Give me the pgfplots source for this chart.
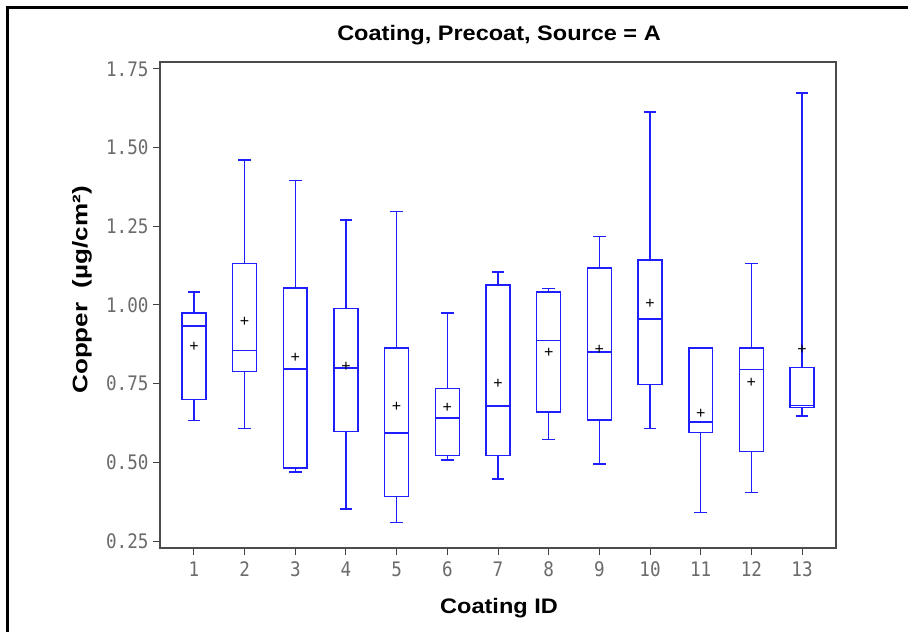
\documentclass[border=0pt]{standalone}
\usepackage{pgfplots}
\pgfplotsset{compat=1.18}
\usepgfplotslibrary{statistics}
\usepackage{fontspec}
\setmainfont{Liberation Sans}
\newfontfamily\titlefont[FakeStretch=1.12]{Liberation Sans}
\newfontfamily\ylabfont[FakeStretch=1.24]{Liberation Sans}
\newfontfamily\tickfont[FakeStretch=0.88]{DejaVu Sans Mono}
\definecolor{boxblue}{RGB}{30,30,255}
\pgfplotsset{
  bx/.style={draw=boxblue, line width=1.45bp, solid, mark=none,
    boxplot/draw direction=y,
    boxplot/box extend=0.47, boxplot/whisker extend=0.25,
    boxplot/draw/average/.code={%
      \node[text=black, inner sep=0pt, font=\fontsize{16bp}{16bp}\selectfont]
        at (boxplot box cs:\pgfplotsboxplotvalue{average},0.5) {+};}},
}
\begin{document}
\begin{tikzpicture}
\useasboundingbox (0,0) rectangle (908bp,632bp);
\fill[white] (0,0) rectangle (908bp,632bp);
\begin{axis}[
  at={(160bp,84bp)}, anchor=south west,
  width=676bp, height=486bp, scale only axis,
  xmin=0.33, xmax=13.67, ymin=0.228, ymax=1.772,
  xtick={1,...,13},
  xticklabels={1,2,3,4,5,6,7,8,9,10,11,12,13},
  ytick={0.25,0.5,0.75,1,1.25,1.5,1.75},
  yticklabels={0.25,0.50,0.75,1.00,1.25,1.50,1.75},
  tick align=outside, xtick pos=bottom, ytick pos=left,
  major tick length=7bp,
  tick style={black!75, line width=1bp},
  axis line style={black!70, line width=1.3bp},
  ticklabel style={font=\tickfont\fontsize{20bp}{23bp}\selectfont, text=black!58},
  xticklabel style={yshift=-3bp},
  yticklabel style={xshift=-1bp},
  clip=false,
]
\addplot[bx, boxplot prepared={lower whisker=0.633, lower quartile=0.699, median=0.933, upper quartile=0.975, upper whisker=1.041, average=0.868, draw position=1}] coordinates {};
\addplot[bx, boxplot prepared={lower whisker=0.608, lower quartile=0.789, median=0.856, upper quartile=1.131, upper whisker=1.461, average=0.946, draw position=2}] coordinates {};
\addplot[bx, boxplot prepared={lower whisker=0.470, lower quartile=0.482, median=0.796, upper quartile=1.054, upper whisker=1.395, average=0.831, draw position=3}] coordinates {};
\addplot[bx, boxplot prepared={lower whisker=0.352, lower quartile=0.598, median=0.800, upper quartile=0.988, upper whisker=1.270, average=0.802, draw position=4}] coordinates {};
\addplot[bx, boxplot prepared={lower whisker=0.309, lower quartile=0.391, median=0.594, upper quartile=0.863, upper whisker=1.297, average=0.677, draw position=5}] coordinates {};
\addplot[bx, boxplot prepared={lower whisker=0.508, lower quartile=0.521, median=0.641, upper quartile=0.735, upper whisker=0.975, average=0.672, draw position=6}] coordinates {};
\addplot[bx, boxplot prepared={lower whisker=0.447, lower quartile=0.521, median=0.679, upper quartile=1.063, upper whisker=1.105, average=0.748, draw position=7}] coordinates {};
\addplot[bx, boxplot prepared={lower whisker=0.572, lower quartile=0.660, median=0.888, upper quartile=1.041, upper whisker=1.053, average=0.849, draw position=8}] coordinates {};
\addplot[bx, boxplot prepared={lower whisker=0.495, lower quartile=0.634, median=0.850, upper quartile=1.117, upper whisker=1.218, average=0.858, draw position=9}] coordinates {};
\addplot[bx, boxplot prepared={lower whisker=0.608, lower quartile=0.748, median=0.956, upper quartile=1.143, upper whisker=1.613, average=1.004, draw position=10}] coordinates {};
\addplot[bx, boxplot prepared={lower whisker=0.341, lower quartile=0.595, median=0.628, upper quartile=0.863, upper whisker=0.863, average=0.653, draw position=11}] coordinates {};
\addplot[bx, boxplot prepared={lower whisker=0.404, lower quartile=0.535, median=0.795, upper quartile=0.863, upper whisker=1.131, average=0.753, draw position=12}] coordinates {};
\addplot[bx, boxplot prepared={lower whisker=0.647, lower quartile=0.674, median=0.680, upper quartile=0.801, upper whisker=1.674, average=0.857, draw position=13}] coordinates {};
\end{axis}
\draw[black, line width=3bp] (7bp,0) -- (7bp,624.5bp) -- (908bp,624.5bp);
\node[font=\titlefont\bfseries\fontsize{21bp}{25bp}\selectfont] at (499bp,597bp) {Coating, Precoat, Source = A};
\node[font=\titlefont\bfseries\fontsize{21bp}{25bp}\selectfont] at (499bp,24bp) {Coating ID};
\node[font=\ylabfont\bfseries\fontsize{21bp}{25bp}\selectfont, rotate=90] at (82bp,342bp) {Copper\ \ (µg/cm²)};
\end{tikzpicture}
\end{document}
